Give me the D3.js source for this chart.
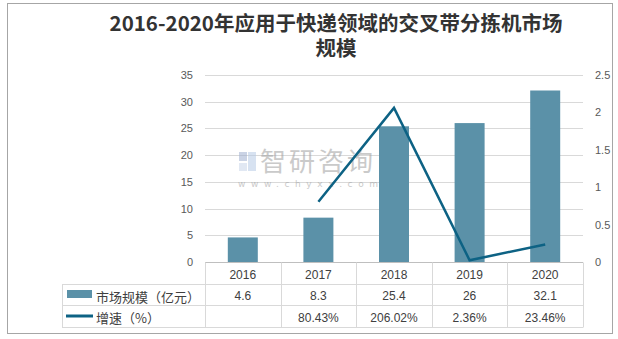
<!DOCTYPE html>
<html><head><meta charset="utf-8">
<script src="https://cdn.jsdelivr.net/npm/d3@7"></script>
<style>body{margin:0;background:#fff}svg{display:block}</style>
</head><body>
<script>
const years = ["2016","2017","2018","2019","2020"];
const marketSize = [4.6, 8.3, 25.4, 26, 32.1];
const growth = [null, 0.8043, 2.0602, 0.0236, 0.2346];
const growthLabels = ["", "80.43%", "206.02%", "2.36%", "23.46%"];
const leftTicks = [0,5,10,15,20,25,30,35];
const rightTicks = [0,0.5,1,1.5,2,2.5];
const titleLines = ["2016-2020年应用于快递领域的交叉带分拣机市场","规模"];
const seriesNames = ["市场规模（亿元）","增速（%）"];

const W=618,H=339;
const barColor="#5b91a8", lineColor="#0d6284", grid="#d9d9d9", txt="#595959";
const svg=d3.select("body").append("svg").attr("width",W).attr("height",H);
svg.append("rect").attr("x",7.5).attr("y",3.5).attr("width",605).attr("height",330)
  .attr("fill","#fff").attr("stroke","#a6a6a6").attr("stroke-width",1);

const plotL=205, plotR=583, plotT=75, plotB=262;
const x=d3.scaleBand().domain(years).range([plotL,plotR]).padding(0);
const yL=d3.scaleLinear().domain([0,35]).range([plotB,plotT]);
const yR=d3.scaleLinear().domain([0,2.5]).range([plotB,plotT]);

// title
const t=svg.append("text").attr("text-anchor","middle")
  .attr("font-family","'Noto Sans CJK SC',sans-serif").attr("font-weight","bold")
  .attr("font-size",20.5).attr("fill","#333");
titleLines.forEach((l,i)=>t.append("tspan").attr("x",336).attr("y",31+i*25).text(l));

// gridlines
svg.append("g").selectAll("line").data(leftTicks.slice(1)).join("line")
  .attr("x1",plotL).attr("x2",plotR).attr("y1",d=>Math.round(yL(d))+0.5).attr("y2",d=>Math.round(yL(d))+0.5)
  .attr("stroke",grid).attr("stroke-width",1);

// watermark
const wm=svg.append("g").attr("opacity",0.55);
wm.append("rect").attr("x",239).attr("y",152).attr("width",8).attr("height",9).attr("fill","#9fb0d0");
wm.append("rect").attr("x",248).attr("y",152).attr("width",8).attr("height",19).attr("fill","#b8cbe6");
wm.append("rect").attr("x",239).attr("y",163).attr("width",8).attr("height",8).attr("fill","#c9d6ea");
wm.append("text").attr("x",260).attr("y",171).attr("font-family","'Noto Sans CJK SC',sans-serif")
  .attr("font-size",26).attr("fill","#a0a0a0").attr("letter-spacing",3).text("智研咨询");
wm.append("text").attr("x",238).attr("y",187).attr("font-family","'DejaVu Sans',sans-serif")
  .attr("font-size",9).attr("fill","#a0a0a0").attr("letter-spacing",5.6).text("www.chyxx.com");

// bars
const bw=30;
svg.append("g").selectAll("rect").data(marketSize).join("rect")
  .attr("x",(d,i)=>x(years[i])+(x.bandwidth()-bw)/2).attr("width",bw)
  .attr("y",d=>yL(d)).attr("height",d=>plotB-yL(d)).attr("fill",barColor);

// line
const pts=growth.map((g,i)=>({g,i})).filter(p=>p.g!==null);
svg.append("path").datum(pts)
  .attr("d",d3.line().x(p=>x(years[p.i])+x.bandwidth()/2).y(p=>yR(p.g)))
  .attr("fill","none").attr("stroke",lineColor).attr("stroke-width",2.5);

// axes
const fontAx="'Liberation Sans',Arial,sans-serif";
const la=svg.append("g").attr("transform",`translate(${plotL},0)`)
  .call(d3.axisLeft(yL).tickValues(leftTicks).tickSize(0).tickPadding(12));
const ra=svg.append("g").attr("transform",`translate(${plotR},0)`)
  .call(d3.axisRight(yR).tickValues(rightTicks).tickSize(0).tickPadding(12).tickFormat(d=>String(d)));
[la,ra].forEach(a=>{a.select(".domain").remove();
  a.selectAll("text").attr("font-family",fontAx).attr("font-size",11).attr("fill",txt);});

// table
const tg=svg.append("g").attr("stroke",grid).attr("stroke-width",1).attr("fill","none");
const tableL=62, r0=262.5, r1=284.5, r2=305.5, r3=327.5;
tg.append("line").attr("x1",plotL).attr("x2",plotR).attr("y1",r0).attr("y2",r0).attr("stroke","#bfbfbf");
[r1,r2,r3].forEach(y=>tg.append("line").attr("x1",tableL).attr("x2",plotR).attr("y1",y).attr("y2",y));
tg.append("line").attr("x1",tableL+0.5).attr("x2",tableL+0.5).attr("y1",r1).attr("y2",r3);
years.forEach(yy=>tg.append("line").attr("x1",Math.round(x(yy))+0.5).attr("x2",Math.round(x(yy))+0.5).attr("y1",r0).attr("y2",r3));
tg.append("line").attr("x1",plotR+0.5).attr("x2",plotR+0.5).attr("y1",r0).attr("y2",r3);

const cell=(tx,cx,cy,anchor="middle")=>svg.append("text").attr("x",cx).attr("y",cy)
  .attr("text-anchor",anchor).attr("dominant-baseline","central")
  .attr("font-family",fontAx).attr("font-size",12).attr("fill","#404040").text(tx);
years.forEach((yy,i)=>{
  const cx=x(yy)+x.bandwidth()/2;
  cell(yy,cx,(r0+r1)/2+1);
  cell(String(marketSize[i]),cx,(r1+r2)/2+1);
  cell(growthLabels[i],cx,(r2+r3)/2+1);
});
svg.append("rect").attr("x",67).attr("y",290).attr("width",25).attr("height",8).attr("fill",barColor);
svg.append("line").attr("x1",66).attr("x2",93).attr("y1",316).attr("y2",316).attr("stroke",lineColor).attr("stroke-width",3);
svg.append("text").attr("x",96).attr("y",(r1+r2)/2+1).attr("dominant-baseline","central")
  .attr("font-family","'Noto Sans CJK SC',sans-serif").attr("font-size",13).attr("fill","#404040").text(seriesNames[0]);
svg.append("text").attr("x",96).attr("y",(r2+r3)/2+1).attr("dominant-baseline","central")
  .attr("font-family","'Noto Sans CJK SC',sans-serif").attr("font-size",13).attr("fill","#404040").text(seriesNames[1]);
</script>
</body></html>
